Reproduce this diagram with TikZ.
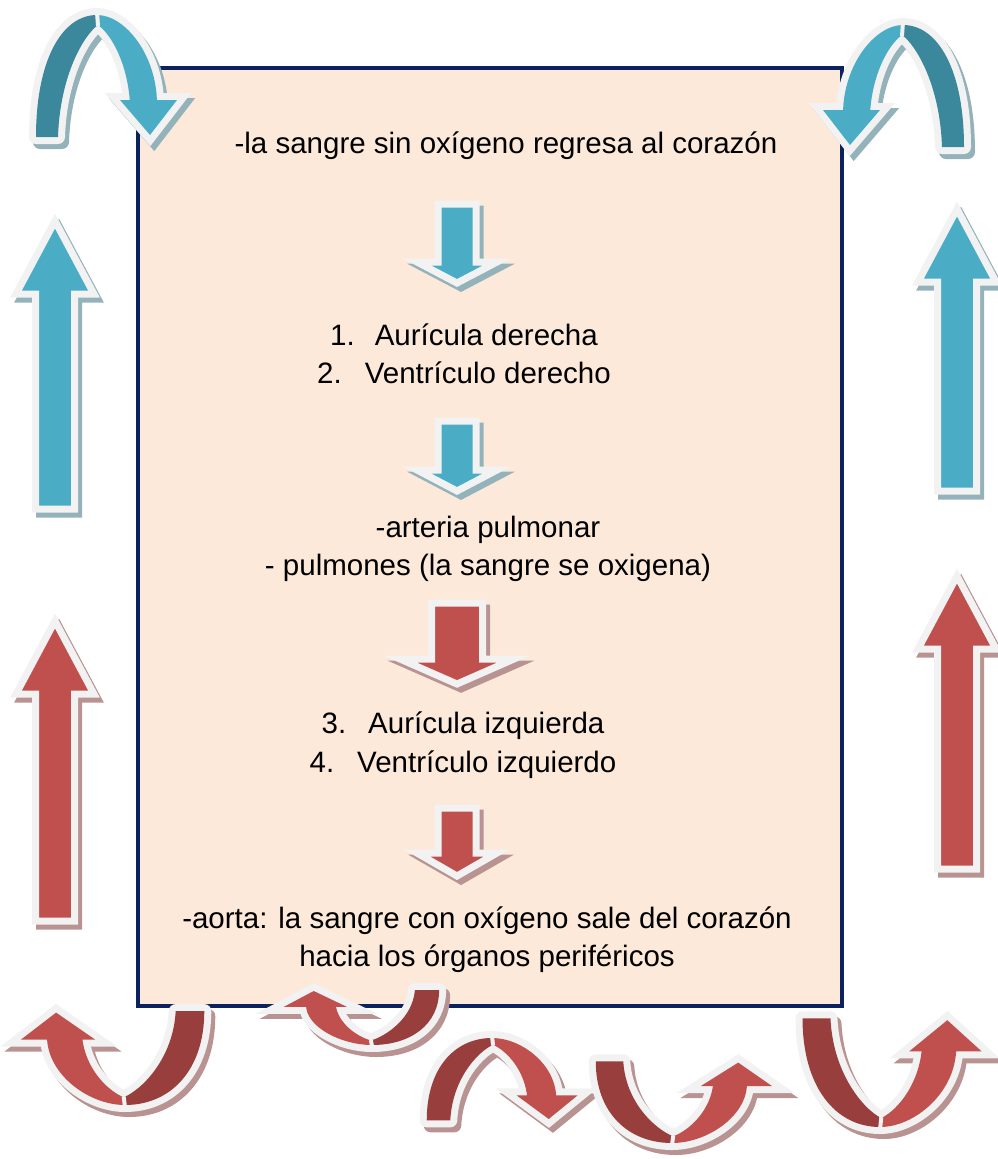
\documentclass[tikz,border=0pt]{standalone}
\usepackage{fontspec}
\setmainfont{Liberation Sans}
\usetikzlibrary{positioning,shadows}
\definecolor{bluefill}{HTML}{4BACC6}
\definecolor{bluedark}{HTML}{3B879B}
\definecolor{blueshade}{HTML}{94B2BA}
\definecolor{redfill}{HTML}{C0504D}
\definecolor{reddark}{HTML}{983E3C}
\definecolor{redshade}{HTML}{B89392}
\definecolor{edge}{HTML}{F2F2F2}
\definecolor{boxfill}{HTML}{FCE9DA}
\definecolor{boxline}{HTML}{0B2160}
\tikzset{
  panel/.style  = {fill=boxfill, draw=boxline, line width=4pt},
  txt/.style    = {font=\fontsize{29.5}{38}\selectfont, inner sep=0pt, anchor=base},
  blockarrow/.style = {fill=#1fill, draw=edge, line width=7pt, line join=miter,
                   drop shadow={shadow xshift=4pt, shadow yshift=-5pt, opacity=1,
                                fill=#1shade, draw=#1shade, line width=7pt}}
}
% one curved arrow, apex at the origin, tail on the left, head on the right
\def\archdark{(-61,122) .. controls (-61,45) and (-35,0) .. (0,0) -- (1,10)
  .. controls (-13,20) and (-37,60) .. (-39,122) -- cycle}
\def\archlight{(0,0) .. controls (28,0) and (60,40) .. (60,89) -- (33,89)
  .. controls (31,50) and (15,20) .. (1,10) -- cycle}
\def\archhead{(23,85) -- (80,85) -- (53,120) -- cycle}
\newcommand\archarrow[2]{%
  \begin{scope}[#2]
    \begin{scope}[transform canvas={xshift=4pt, yshift=-5pt}]
      \filldraw[#1shade, line width=14pt, line join=round] \archdark \archlight;
      \filldraw[#1shade, line width=14pt, line join=miter] \archhead;
    \end{scope}
    \filldraw[edge, line width=14pt, line join=round] \archdark \archlight;
    \filldraw[edge, line width=14pt, line join=miter] \archhead;
    \fill[#1dark] \archdark;
    \fill[#1fill] \archlight \archhead;
    \draw[edge, line width=4pt] (0,-3) -- (1,11);
  \end{scope}
}

\begin{document}
\begin{tikzpicture}[x=1pt, y=-1pt]
\useasboundingbox (0,0) rectangle (998,1159);

% the panel and its text
\draw[panel] (138,68) rectangle (842,1006);
\node[txt] (top) at (506,153) {-la sangre sin oxígeno regresa al corazón};
\node[txt] (l1) at (464,345) {1.\hspace{20pt}Aurícula derecha};
\node[txt, below=38pt of l1.base, anchor=base] (l2) {2.\hspace{23pt}Ventrículo derecho};
\node[txt] (p1) at (488,537) {-arteria pulmonar};
\node[txt, below=38pt of p1.base, anchor=base] (p2) {- pulmones (la sangre se oxigena)};
\node[txt] (l3) at (463,733) {3.\hspace{22pt}Aurícula izquierda};
\node[txt, below=39pt of l3.base, anchor=base] (l4) {4.\hspace{23pt}Ventrículo izquierdo};
\node[txt] (a1) at (487,928) {-aorta: la sangre con oxígeno sale del corazón};
\node[txt, below=38pt of a1.base, anchor=base] (a2) {hacia los órganos periféricos};

% straight arrows
\foreach \cx/\ty/\hy/\by/\s/\h in {55/221/294/509/19.5/39, 957/209/282/491/19.5/39,
    457/283/262/204/19/40, 457/491/470/421/19/40}
  \draw[blockarrow=blue] (\cx-\s,\by) -- (\cx-\s,\hy) -- (\cx-\h,\hy) -- (\cx,\ty)
    -- (\cx+\h,\hy) -- (\cx+\s,\hy) -- (\cx+\s,\by) -- cycle;
\foreach \cx/\ty/\hy/\by/\s/\h in {55/621/694/921/19.5/39, 957/576/649/869/19.5/39,
    457/684/659/603/25.5/57, 457/876/853/808/19/40}
  \draw[blockarrow=red] (\cx-\s,\by) -- (\cx-\s,\hy) -- (\cx-\h,\hy) -- (\cx,\ty)
    -- (\cx+\h,\hy) -- (\cx+\s,\hy) -- (\cx+\s,\by) -- cycle;

% curved arrows round the panel
\archarrow{blue}{shift={(97,15)}}
\archarrow{blue}{shift={(903,25)}, xscale=-1}
\archarrow{red}{shift={(125,1105)}, xscale=-1.3, yscale=-0.77}
\archarrow{red}{shift={(372,1045)}, xscale=-1.1, yscale=-0.45}
\archarrow{red}{shift={(492,1038)}, xscale=1.07, yscale=0.675}
\archarrow{red}{shift={(672,1143)}, xscale=1.25, yscale=-0.67}
\archarrow{red}{shift={(880,1127)}, xscale=1.27, yscale=-0.89}
\end{tikzpicture}
\end{document}
